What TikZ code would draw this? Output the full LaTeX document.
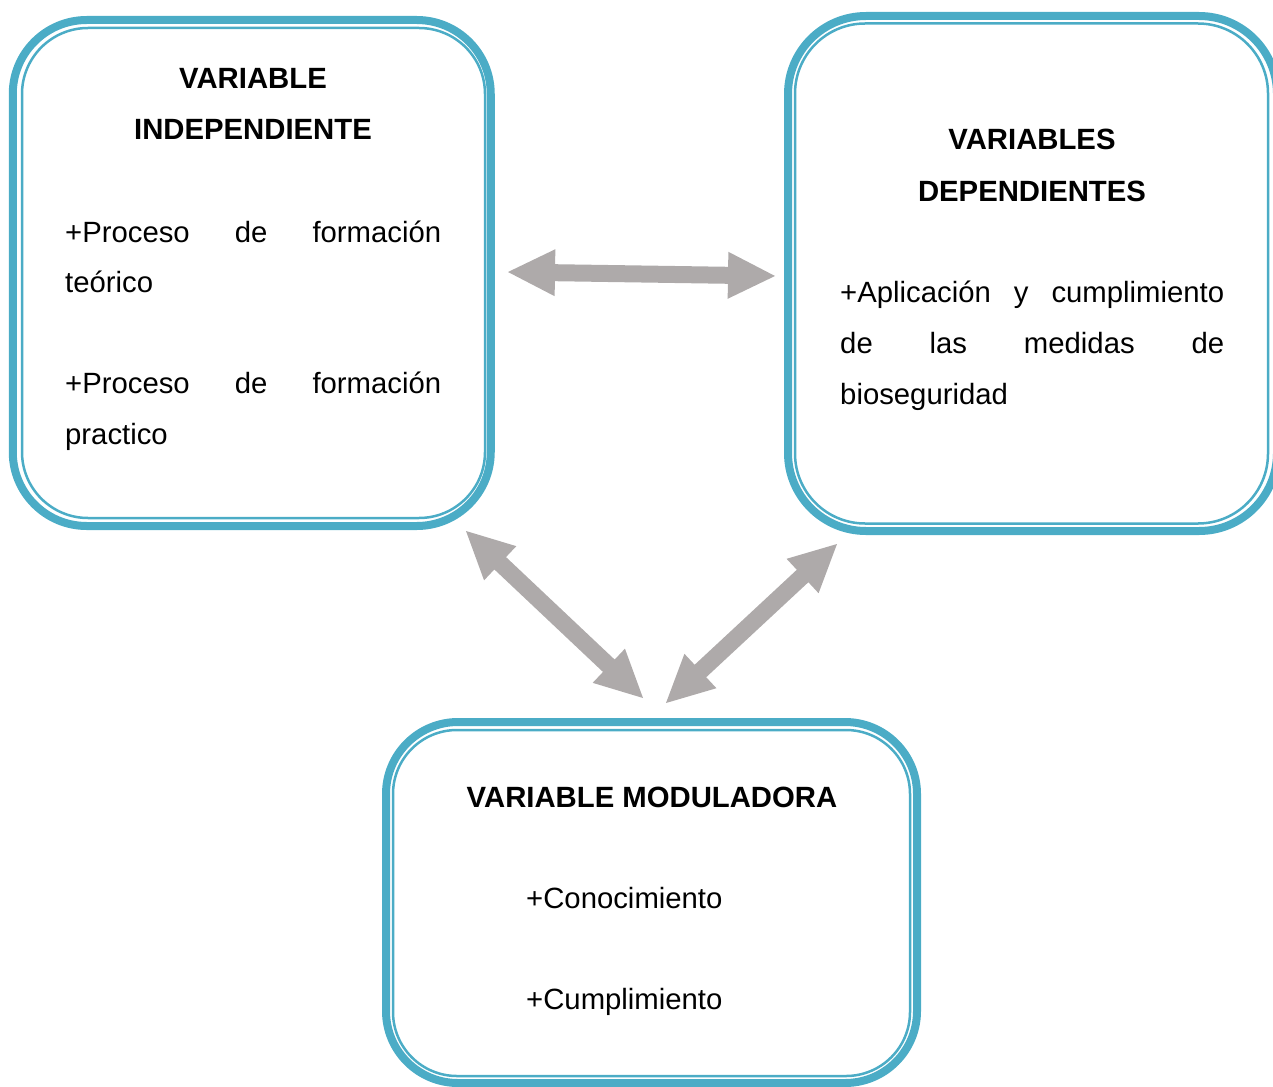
\documentclass[tikz,border=0pt]{standalone}
\usepackage{fontspec}
\setmainfont{Liberation Sans}
\usetikzlibrary{calc}
\definecolor{boxblue}{HTML}{4BACC6}
\definecolor{arrgray}{HTML}{AEAAAA}
\tikzset{
  outerbox/.style={draw=boxblue, line width=8pt, rectangle, inner sep=0pt},
  innerbox/.style={draw=boxblue, line width=2.5pt, rectangle, inner sep=0pt},
  txt/.style={inner sep=0pt, font=\fontsize{29.3}{35}\selectfont},
  ttl/.style={txt, anchor=base, font=\bfseries\fontsize{29.3}{35}\selectfont},
  lft/.style={txt, anchor=base west},
  arr/.style={fill=arrgray, draw=none}
}
\newcommand{\blockarrow}[3]{%
  \coordinate (#3h1) at ($(#1)!47pt!(#2)$);
  \coordinate (#3h2) at ($(#2)!47pt!(#1)$);
  \fill[arr] (#1) -- ($(#3h1)!23.5pt!90:(#2)$) -- ($(#3h1)!8.5pt!90:(#2)$)
    -- ($(#3h2)!8.5pt!-90:(#1)$) -- ($(#3h2)!23.5pt!-90:(#1)$) -- (#2)
    -- ($(#3h2)!23.5pt!90:(#1)$) -- ($(#3h2)!8.5pt!90:(#1)$)
    -- ($(#3h1)!8.5pt!-90:(#2)$) -- ($(#3h1)!23.5pt!-90:(#2)$) -- cycle;
}
\begin{document}
\begin{tikzpicture}[x=1pt,y=-1pt]
\path[use as bounding box] (0,0) rectangle (1273,1086);
\begin{scope}
\clip (0,0) rectangle (1273,1086);
% Box 1
\node[outerbox, rounded corners=74pt, minimum width=478pt, minimum height=506pt] (iv) at (251.75,273) {};
\node[innerbox, rounded corners=66pt, minimum width=463pt, minimum height=490pt] (ivin) at (253.5,273) {};
% Box 2
\node[outerbox, rounded corners=78pt, minimum width=489pt, minimum height=515pt] (dv) at (1032.5,273.5) {};
\node[innerbox, rounded corners=70pt, minimum width=473pt, minimum height=500pt] (dvin) at (1031.5,273.5) {};
% Box 3
\node[outerbox, rounded corners=72pt, minimum width=531pt, minimum height=361pt] (mv) at (651.5,902.5) {};
\node[innerbox, rounded corners=64pt, minimum width=517pt, minimum height=346pt] (mvin) at (651.5,903) {};
\end{scope}
% Texts box 1
\node[ttl] (t1a) at (253,89) {VARIABLE};
\node[ttl] (t1b) at (253,140) {INDEPENDIENTE};
\node[lft] (t1c) at (65,242) {\makebox[376pt][s]{+Proceso de formación}};
\node[lft] (t1d) at (65,292) {teórico};
\node[lft] (t1e) at (65,393) {\makebox[376pt][s]{+Proceso de formación}};
\node[lft] (t1f) at (65,444) {practico};
% Texts box 2
\node[ttl] (t2a) at (1032,150) {VARIABLES};
\node[ttl] (t2b) at (1032,201) {DEPENDIENTES};
\node[lft] (t2c) at (840,302) {\makebox[384pt][s]{+Aplicación y cumplimiento}};
\node[lft] (t2d) at (840,353) {\makebox[384pt][s]{de las medidas de}};
\node[lft] (t2e) at (840,404) {bioseguridad};
% Texts box 3
\node[ttl] (t3a) at (652,807) {VARIABLE MODULADORA};
\node[lft] (t3b) at (526,908) {+Conocimiento};
\node[lft] (t3c) at (526,1009) {+Cumplimiento};
% Arrow end points
\coordinate (a1l) at (508,272);
\coordinate (a1r) at (775,276);
\coordinate (a2t) at (466,531);
\coordinate (a2b) at (643,698);
\coordinate (a3t) at (837,544);
\coordinate (a3b) at (666,703);
\blockarrow{a1l}{a1r}{x}
\blockarrow{a2t}{a2b}{y}
\blockarrow{a3t}{a3b}{z}
\end{tikzpicture}
\end{document}
